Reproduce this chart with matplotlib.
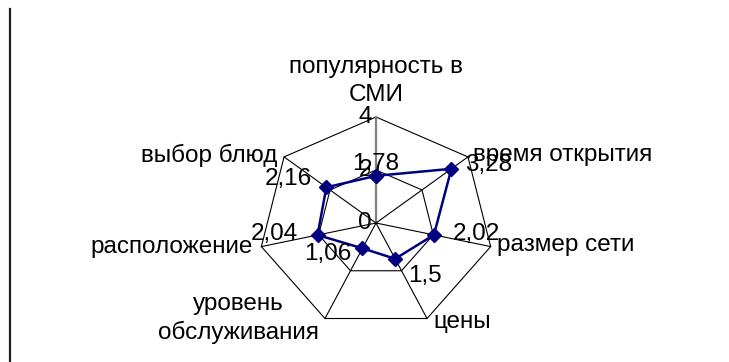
import numpy as np
import matplotlib
matplotlib.use("Agg")
import matplotlib.pyplot as plt
from matplotlib.lines import Line2D

plt.rcParams['font.family'] = ['Liberation Sans', 'DejaVu Sans']
plt.rcParams['font.size'] = 17.5

# данные
categories = ["популярность в\nСМИ", "время открытия", "размер сети", "цены",
              "уровень\nобслуживания", "расположение", "выбор блюд"]
values = [1.78, 3.28, 2.02, 1.5, 1.06, 2.04, 2.16]
value_labels = ["1,78", "3,28", "2,02", "1,5", "1,06", "2,04", "2,16"]
grid_levels = [2, 4]
tick_values = [0, 2, 4]
r_max = 4

n = len(categories)
theta = 2 * np.pi * np.arange(n) / n

def to_xy(r, t):
    return r * np.sin(t), r * np.cos(t)

fig = plt.figure(figsize=(7.29, 3.62), dpi=100)
ax = fig.add_axes([0, 0, 1, 1])
ax.set_xlim(-12.79, 12.007)
ax.set_ylim(-5.245, 8.415)
ax.axis('off')

# сетка
for lev in grid_levels:
    gx, gy = to_xy(lev, np.append(theta, theta[0]))
    ax.plot(gx, gy, color='black', lw=0.8, zorder=1)
for i, t in enumerate(theta):
    sx, sy = to_xy(np.array([0, r_max]), t)
    if i == 0:
        ax.plot(sx, sy, color='#808080', lw=1.6, zorder=1)
    else:
        ax.plot(sx, sy, color='black', lw=0.8, zorder=1)

# подписи оси значений
for tv in tick_values:
    ax.annotate(str(tv), xy=(0, tv), xytext=(-4, 0), textcoords='offset pixels',
                ha='right', va='center')

# ряд
px, py = to_xy(np.array(values + values[:1]), np.append(theta, theta[0]))
ax.plot(px, py, color='#000080', lw=1.8, marker='D', ms=7,
        markerfacecolor='#000080', markeredgecolor='#000080', zorder=3)

# подписи значений
lab_off = [(0, 12, 'center'), (14, 4, 'left'), (19, 1, 'left'), (13, -17, 'left'),
           (-11, -6, 'right'), (-20, 1, 'right'), (-14, 8, 'right')]
for v, lab, t, (dx, dy, ha) in zip(values, value_labels, theta, lab_off):
    x, y = to_xy(v, t)
    ax.annotate(lab, xy=(x, y), xytext=(dx, dy), textcoords='offset pixels',
                ha=ha, va='center', zorder=4)

# подписи категорий
cat_off = [(0, 11, 'center', 'bottom'), (5, 2, 'left', 'center'), (6, 2, 'left', 'center'),
           (6, -3, 'left', 'center'), (-6, 0, 'right', 'center'), (-9, 0, 'right', 'center'),
           (-7, 1, 'right', 'center')]
for c, t, (dx, dy, ha, va) in zip(categories, theta, cat_off):
    x, y = to_xy(r_max, t)
    ax.annotate(c, xy=(x, y), xytext=(dx, dy), textcoords='offset pixels',
                ha=ha, va=va, multialignment='center', linespacing=1.35)

# левая граница области диаграммы
fig.add_artist(Line2D([9.5 / 729, 9.5 / 729], [0, 1 - 9 / 362], color='#202020', lw=1.6,
                      transform=fig.transFigure))

fig.savefig("out.png", dpi=100)
